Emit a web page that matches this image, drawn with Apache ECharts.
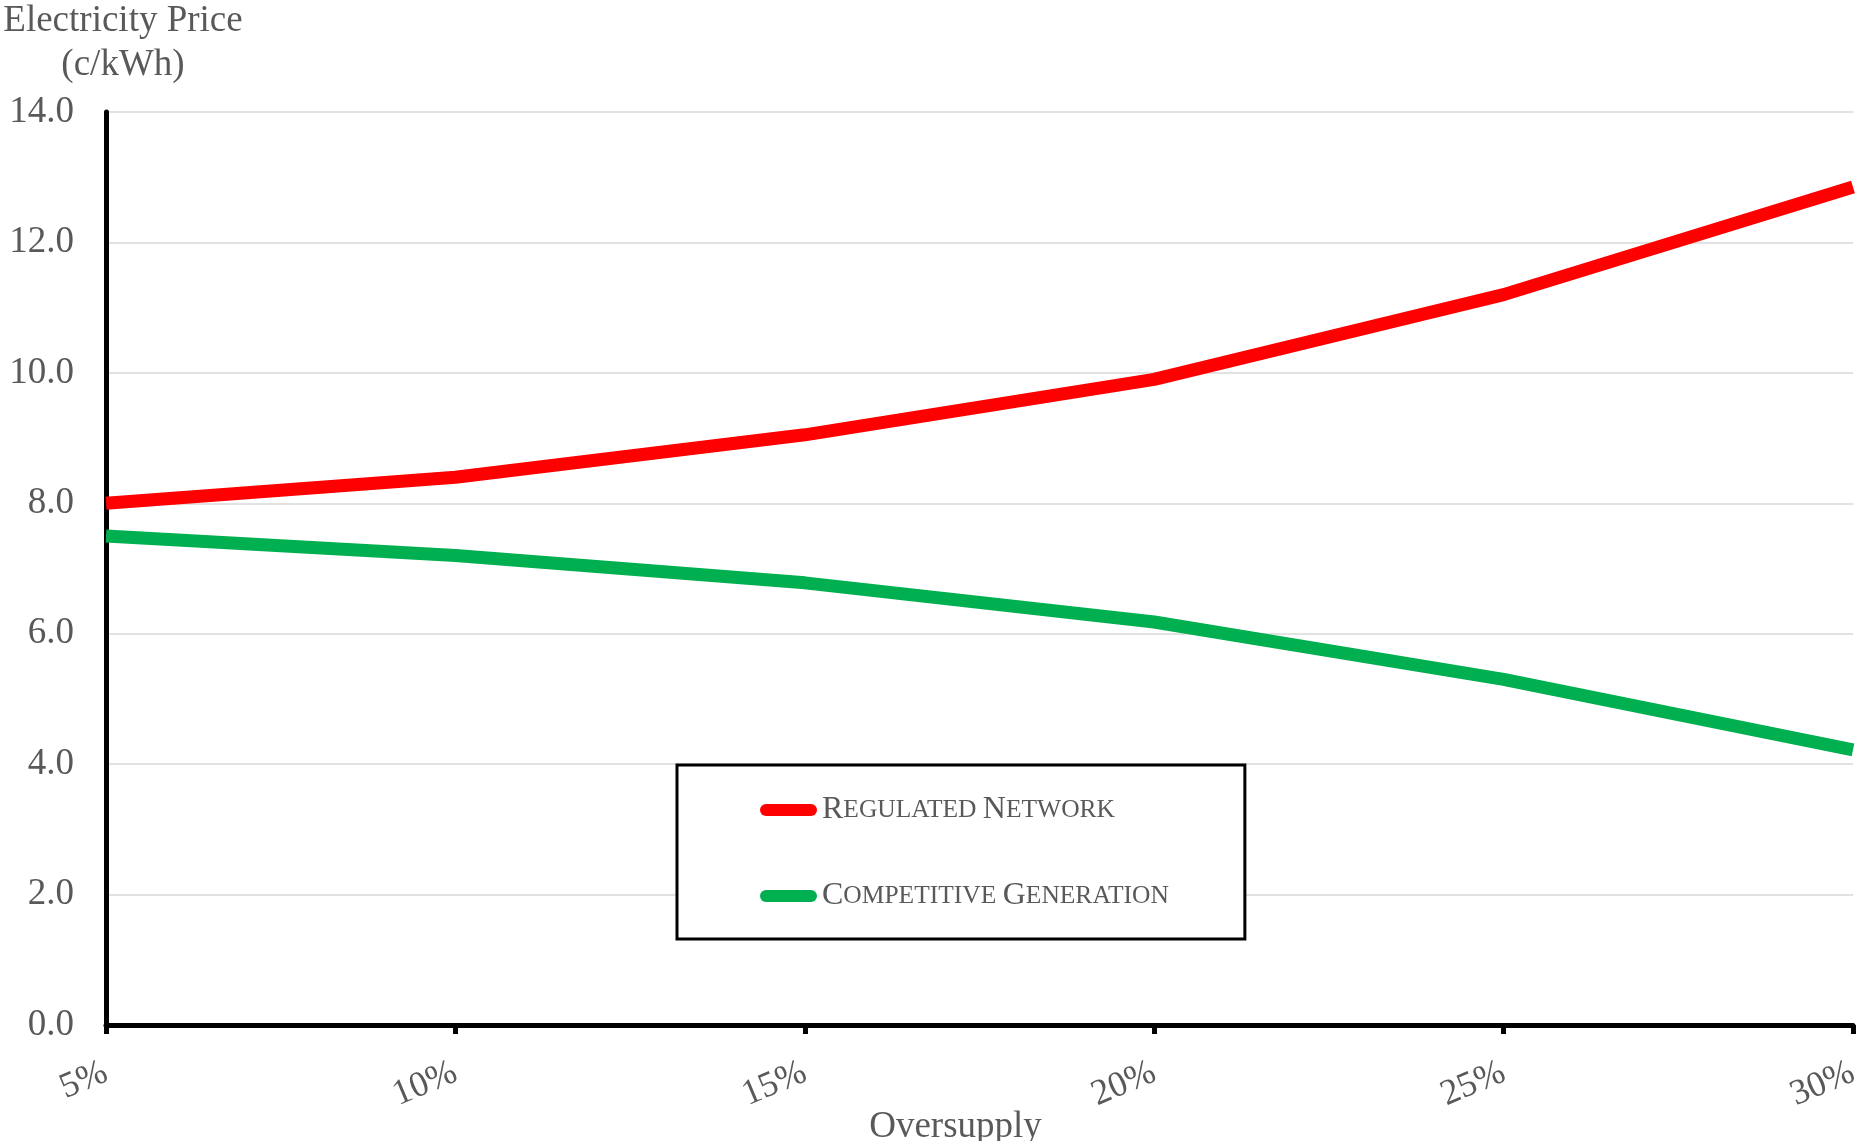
<!DOCTYPE html>
<html>
<head>
<meta charset="utf-8">
<title>Electricity Price vs Oversupply</title>
<script src="https://cdn.jsdelivr.net/npm/echarts@6/dist/echarts.min.js"></script>
<style>
  html, body { margin: 0; padding: 0; background: #ffffff; overflow: hidden; }
  #chart { width: 1862px; height: 1141px; }
</style>
</head>
<body>
<div id="chart"></div>
<script>
// Oversupply levels on the horizontal axis
const categories = ['5%', '10%', '15%', '20%', '25%', '30%'];

// Price components (c/kWh) at each oversupply level
const regulatedNetwork = [8.0, 8.4, 9.05, 9.9, 11.2, 12.85];
const competitiveGeneration = [7.5, 7.2, 6.78, 6.18, 5.3, 4.22];

const seriesNames = ['Regulated Network', 'Competitive Generation'];

// Value axis range
const yMin = 0;
const yMax = 14;
const yStep = 2;

const SERIF = '"Liberation Serif", "DejaVu Serif", serif';
const TEXT_GREY = '#595959';

// Render a label in small capitals: initials large, remaining letters small.
function smallCaps(name) {
  return name.split(' ').map(function (word) {
    return '{b|' + word.charAt(0).toUpperCase() + '}{s|' + word.slice(1).toUpperCase() + '}';
  }).join('{s| }');
}

const chart = echarts.init(document.getElementById('chart'), null, { renderer: 'canvas' });

chart.setOption({
  backgroundColor: '#ffffff',
  animation: false,
  grid: {
    left: 106, right: 9, top: 112, bottom: 116,
    containLabel: false,
    outerBoundsMode: 'none'
  },
  graphic: [{
    type: 'text',
    x: 123,
    y: -1,
    style: {
      text: 'Electricity Price\n(c/kWh)',
      font: '37px ' + SERIF,
      fill: TEXT_GREY,
      textAlign: 'center',
      textVerticalAlign: 'top',
      lineHeight: 44
    }
  }],
  legend: {
    orient: 'vertical',
    left: 677,
    top: 765,
    padding: [29, 76, 27, 83],
    itemGap: 54,
    itemWidth: 57,
    itemHeight: 13,
    borderColor: '#000000',
    borderWidth: 3,
    backgroundColor: '#ffffff',
    icon: 'path://M6,0 H51 A6,6 0 0 1 51,12 H6 A6,6 0 0 1 6,0 Z',
    data: seriesNames,
    formatter: smallCaps,
    textStyle: {
      color: TEXT_GREY,
      fontFamily: SERIF,
      rich: {
        b: { fontSize: 32, fontFamily: SERIF, color: TEXT_GREY },
        s: { fontSize: 25.5, fontFamily: SERIF, color: TEXT_GREY }
      }
    }
  },
  xAxis: {
    type: 'category',
    data: categories,
    boundaryGap: false,
    name: 'Oversupply',
    nameLocation: 'middle',
    nameGap: 84,
    nameMoveOverlap: false,
    nameTextStyle: {
      fontFamily: SERIF,
      fontSize: 37,
      color: TEXT_GREY,
      padding: [0, 48, 0, 0]
    },
    axisLine: { show: true, lineStyle: { color: '#000000', width: 5 } },
    axisTick: { show: true, alignWithLabel: true, length: 9, lineStyle: { color: '#000000', width: 5 } },
    axisLabel: {
      rotate: 23,
      margin: 46,
      fontFamily: SERIF,
      fontSize: 36,
      color: TEXT_GREY
    },
    splitLine: { show: false }
  },
  yAxis: {
    type: 'value',
    min: yMin,
    max: yMax,
    interval: yStep,
    axisLine: { show: true, lineStyle: { color: '#000000', width: 5 } },
    axisTick: { show: false },
    axisLabel: {
      margin: 32,
      fontFamily: SERIF,
      fontSize: 37,
      color: TEXT_GREY,
      formatter: function (v) { return v.toFixed(1); }
    },
    splitLine: { show: true, lineStyle: { color: '#d9d9d9', width: 1.5 } }
  },
  series: [
    {
      name: seriesNames[0],
      type: 'line',
      data: regulatedNetwork,
      showSymbol: false,
      symbol: 'none',
      itemStyle: { color: '#ff0000' },
      lineStyle: { color: '#ff0000', width: 13, cap: 'butt', join: 'round' },
      z: 3
    },
    {
      name: seriesNames[1],
      type: 'line',
      data: competitiveGeneration,
      showSymbol: false,
      symbol: 'none',
      itemStyle: { color: '#00b050' },
      lineStyle: { color: '#00b050', width: 13, cap: 'butt', join: 'round' },
      z: 3
    }
  ]
});
</script>
</body>
</html>
